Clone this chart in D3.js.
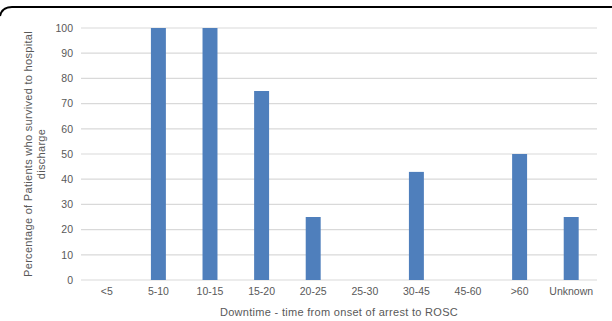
<!DOCTYPE html>
<html><head><meta charset="utf-8">
<script src="https://cdn.jsdelivr.net/npm/d3@7"></script>
<style>body{margin:0;background:#fff;} svg{display:block;}</style>
</head><body>
<script>
const categories = ["<5","5-10","10-15","15-20","20-25","25-30","30-45","45-60",">60","Unknown"];
const values = [0,100,100,75,25,0,42.9,0,50,25];
const yTicks = [0,10,20,30,40,50,60,70,80,90,100];
const yTitle = ["Percentage of Patients who survived to hospital","discharge"];
const xTitle = "Downtime  - time from onset of arrest to ROSC";

const W=612,H=321;
const svg=d3.select("body").append("svg").attr("width",W).attr("height",H);
const font="Liberation Sans, Arial, sans-serif";
const gray="#595959";

// frame
svg.append("path").attr("d","M0,16 Q2,7 12,7 L612,7").attr("fill","none").attr("stroke","#000").attr("stroke-width",2);

const x=d3.scaleBand().domain(categories).range([81,597]).paddingInner(0.71).paddingOuter(0.355);
const y=d3.scaleLinear().domain([0,100]).range([280,28]);

svg.append("g").selectAll("line").data(yTicks).join("line")
 .attr("x1",81).attr("x2",597).attr("y1",d=>y(d)).attr("y2",d=>y(d))
 .attr("stroke","#d9d9d9").attr("stroke-width",1.2);

const yAxis=svg.append("g").attr("transform","translate(73,0)").call(d3.axisLeft(y).tickValues(yTicks).tickSize(0).tickPadding(0));
yAxis.select(".domain").remove();
yAxis.selectAll("text").attr("font-family",font).attr("font-size",10.5).attr("fill",gray);

svg.append("g").selectAll("rect").data(categories.map((c,i)=>({c,v:values[i]}))).join("rect")
 .attr("x",d=>x(d.c)).attr("width",x.bandwidth())
 .attr("y",d=>y(d.v)).attr("height",d=>y(0)-y(d.v)).attr("fill","#4f7fbc");

const xAxis=svg.append("g").attr("transform","translate(0,288)").call(d3.axisBottom(x).tickSize(0).tickPadding(0));
xAxis.select(".domain").remove();
xAxis.selectAll("text").attr("font-family",font).attr("font-size",10.5).attr("fill",gray);

svg.append("text").attr("x",339).attr("y",316).attr("text-anchor","middle")
 .attr("font-family",font).attr("font-size",11).attr("letter-spacing",0.3).attr("fill",gray).text(xTitle);

const yt=svg.append("text").attr("transform","translate(32,154) rotate(-90)").attr("text-anchor","middle")
 .attr("font-family",font).attr("font-size",11).attr("letter-spacing",0.3).attr("fill",gray);
yTitle.forEach((t,i)=>yt.append("tspan").attr("x",0).attr("dy",i===0?0:13).text(t));
</script>
</body></html>
